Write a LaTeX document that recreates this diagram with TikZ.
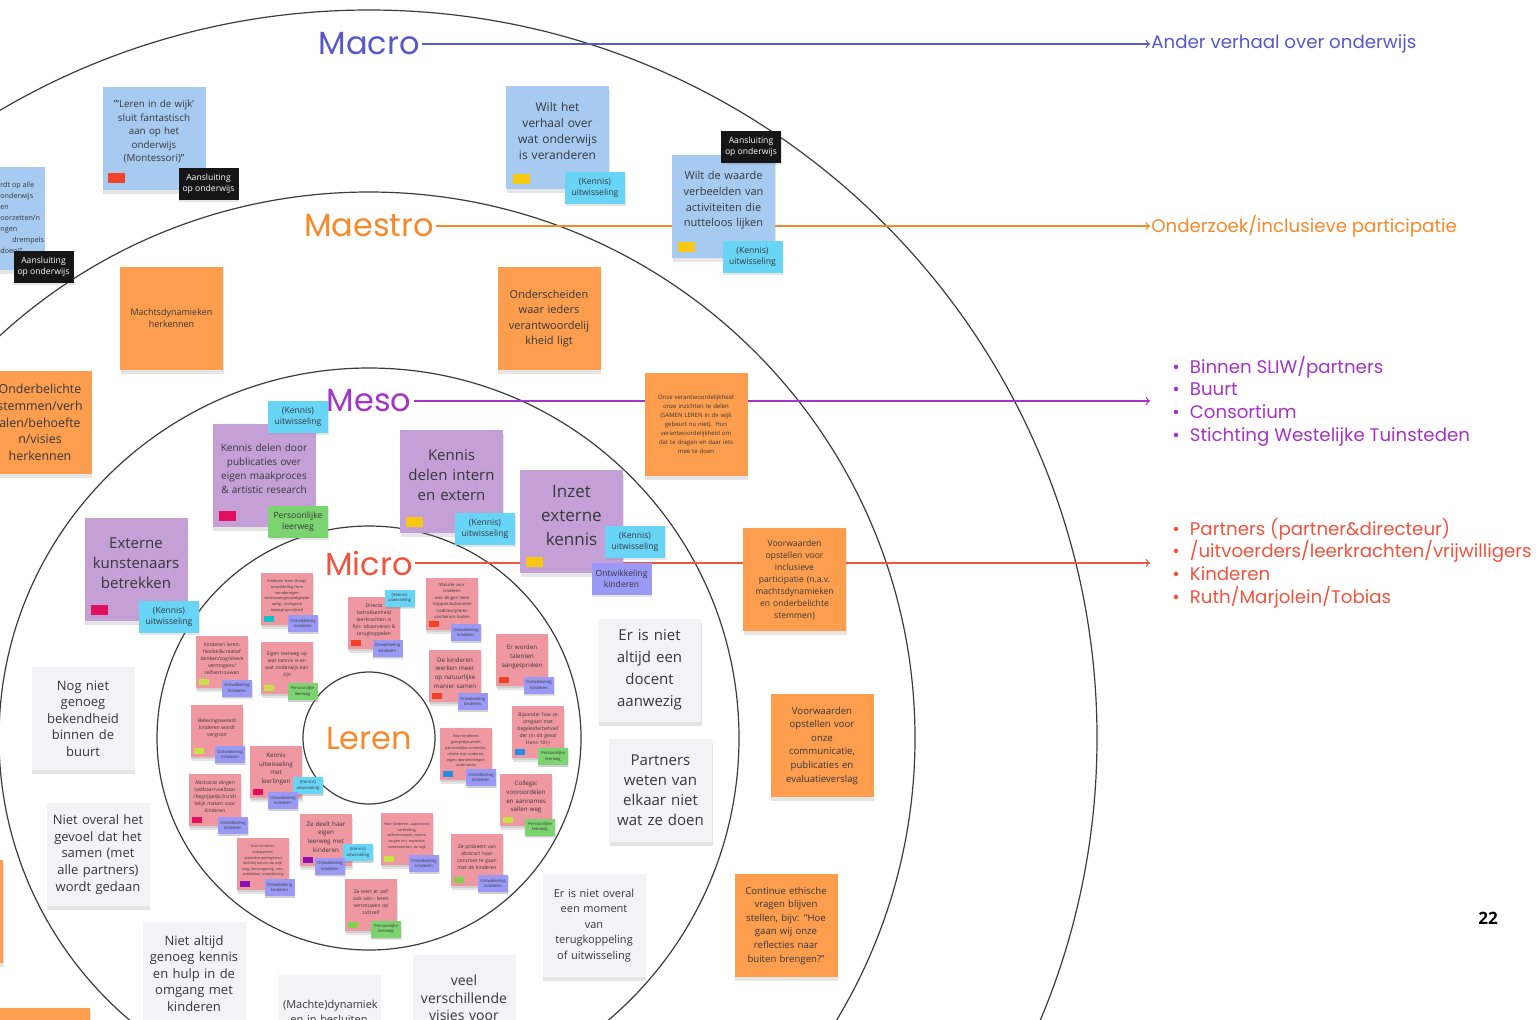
\documentclass[tikz,border=0pt]{standalone}
\usepackage{fontspec}
\setmainfont{Open Sans}
\newfontfamily\levelfont{Poppins}
\usetikzlibrary{shadows}

\definecolor{ringgrey}{RGB}{60,60,60}
\definecolor{macroblue}{RGB}{88,88,204}
\definecolor{maestroorange}{RGB}{246,137,42}
\definecolor{mesopurple}{RGB}{163,52,196}
\definecolor{microred}{RGB}{240,84,62}
\definecolor{notetext}{RGB}{55,55,60}
\definecolor{noteblue}{RGB}{166,202,240}
\definecolor{noteorange}{RGB}{252,158,78}
\definecolor{notepurple}{RGB}{196,160,214}
\definecolor{notegrey}{RGB}{243,243,245}
\definecolor{notepink}{RGB}{240,152,162}
\definecolor{tagcyan}{RGB}{104,212,246}
\definecolor{tagviolet}{RGB}{154,154,246}
\definecolor{taggreen}{RGB}{124,212,112}
\definecolor{tagblack}{RGB}{22,22,22}
\definecolor{markred}{RGB}{240,66,36}
\definecolor{markyellow}{RGB}{248,200,20}
\definecolor{markpink}{RGB}{226,16,92}
\definecolor{markcyan}{RGB}{18,190,200}
\definecolor{marklime}{RGB}{200,226,70}
\definecolor{markblue}{RGB}{36,142,226}
\definecolor{markviolet}{RGB}{140,16,176}
\definecolor{markgreen}{RGB}{130,210,80}

\tikzset{
  ring/.style={draw=ringgrey, line width=0.6pt},
  level/.style={font=\levelfont\fontsize{16}{18}\selectfont, inner sep=1pt},
  goal/.style={font=\levelfont\fontsize{9.1}{11.3}\selectfont, anchor=west, inner sep=0.5pt, align=left},
  goallist/.style={goal, inner xsep=11pt},
  levelline/.style={line width=0.6pt, ->},
  note/.style={minimum width=51.5pt, minimum height=51.5pt, text width=46pt, inner sep=0pt, align=center, text=notetext,
    drop shadow={shadow xshift=0.3pt, shadow yshift=-2pt, opacity=0.2}, font=\fontsize{6}{8}\selectfont},
  marked/.style={execute at end node={\par\vspace*{#1}}},
  marked/.default=6pt,
  bluenote/.style={note, marked, fill=noteblue},
  orangenote/.style={note, fill=noteorange},
  purplenote/.style={note, marked, fill=notepurple},
  greynote/.style={note, fill=notegrey, font=\fontsize{6.5}{8.3}\selectfont},
  mininote/.style={note, marked=3pt, fill=notepink, minimum width=26pt, minimum height=26pt, text width=24pt,
    drop shadow={shadow xshift=0.2pt, shadow yshift=-1pt, opacity=0.2}, font=\fontsize{2.5}{3.5}\selectfont},
  tag/.style={minimum width=30pt, minimum height=16pt, inner sep=1pt, align=center, text=notetext,
    drop shadow={shadow xshift=0.3pt, shadow yshift=-1.2pt, opacity=0.2}, font=\fontsize{4.3}{5.6}\selectfont},
  onderwijstag/.style={tag, fill=tagblack, text=white},
  kennistag/.style={tag, fill=tagcyan},
  leerwegtag/.style={tag, fill=taggreen},
  ontwtag/.style={tag, fill=tagviolet},
  minitag/.style={tag, minimum width=15pt, minimum height=8.5pt, inner sep=0.3pt, font=\fontsize{2.1}{2.7}\selectfont,
    drop shadow={shadow xshift=0.2pt, shadow yshift=-0.8pt, opacity=0.2}},
  minikennis/.style={minitag, fill=tagcyan},
  minileerweg/.style={minitag, fill=taggreen},
  miniontw/.style={minitag, fill=tagviolet},
  notemark/.style={minimum width=8.5pt, minimum height=5pt, inner sep=0pt},
  minimark/.style={minimum width=5pt, minimum height=3pt, inner sep=0pt}
}

\begin{document}
\begin{tikzpicture}[x=0.5pt, y=-0.5pt]
\useasboundingbox (0,0) rectangle (1540,1019);
\fill [white] (0,0) rectangle (1540,1019);
\clip (0,0) rectangle (1540,1019);

\coordinate (centre) at (369,738);
\draw [ring] (centre) circle [radius=364pt];
\draw [ring] (centre) circle [radius=273pt];
\draw [ring] (centre) circle [radius=185pt];
\draw [ring] (centre) circle [radius=106pt];
\draw [ring] (centre) circle [radius=33pt];

\node (macro) [level, text=macroblue] at (369,44) {Macro};
\node (maestro) [level, text=maestroorange] at (369,226) {Maestro};
\node (meso) [level, text=mesopurple] at (369,401) {Meso};
\node (micro) [level, text=microred] at (369,563) {Micro};
\node (leren) [level, text=maestroorange] at (369,738) {Leren};

\node (macrogoal) [goal, text=macroblue] at (1150,44) {Ander verhaal over onderwijs};
\node (maestrogoal) [goal, text=maestroorange] at (1150,226) {Onderzoek/inclusieve participatie};
\node (mesolist) [goallist, text=mesopurple] at (1150,401) {•\hspace{5pt}Binnen SLIW/partners\\•\hspace{5pt}Buurt\\•\hspace{5pt}Consortium\\•\hspace{5pt}Stichting Westelijke Tuinsteden};
\node (microlist) [goallist, text=microred] at (1150,563) {•\hspace{5pt}Partners (partner\&directeur)\\•\hspace{5pt}/uitvoerders/leerkrachten/vrijwilligers\\•\hspace{5pt}Kinderen\\•\hspace{5pt}Ruth/Marjolein/Tobias};

\draw [levelline, macroblue] (macro.east) -- (macro.east -| macrogoal.west);
\draw [levelline, maestroorange] (maestro.east) -- (maestro.east -| maestrogoal.west);
\draw [levelline, mesopurple] (meso.east) -- (meso.east -| mesolist.west);
\draw [levelline, microred] (micro.east) -- (micro.east -| microlist.west);

\node (n1) [bluenote, font=\fontsize{4.9}{6.75}\selectfont] at (154,138) {"'Leren in de wijk'\\sluit fantastisch\\aan op het\\onderwijs\\(Montessori)"};
\node (n1m) [notemark, fill=markred] at ([shift={(14,-12)}]n1.south west) {};
\node (t1) [onderwijstag] at (208.5,183.5) {Aansluiting\\op onderwijs};
\node (n2) [bluenote] at (-7,218) {};
\node (n2text) [anchor=west, inner sep=0pt, align=left, text=notetext, font=\fontsize{3.6}{5.5}\selectfont] at (0,218) {rdt op alle\\onderwijs\\en\\oorzetten/n\\ngen\\\hspace*{6pt}drempels\\doen)"};
\node (t2) [onderwijstag] at (43.5,267) {Aansluiting\\op onderwijs};
\node (n3) [bluenote] at (557.5,137) {Wilt het\\verhaal over\\wat onderwijs\\is veranderen};
\node (n3m) [notemark, fill=markyellow] at ([shift={(16,-10)}]n3.south west) {};
\node (t3) [kennistag] at (595,187.5) {(Kennis)\\uitwisseling};
\node (n4) [bluenote, font=\fontsize{5.5}{7.8}\selectfont] at (723.5,206.5) {Wilt de waarde\\verbeelden van\\activiteiten die\\nutteloos lijken};
\node (n4m) [notemark, fill=markyellow] at ([shift={(15,-11)}]n4.south west) {};
\node (t4a) [onderwijstag] at (751,146.5) {Aansluiting\\op onderwijs};
\node (t4b) [kennistag] at (752.5,257) {(Kennis)\\uitwisseling};

\node (n5) [orangenote, font=\fontsize{4.5}{6}\selectfont] at (171.5,318.5) {Machtsdynamieken\\herkennen};
\node (n6) [orangenote, font=\fontsize{5.5}{7.7}\selectfont] at (549,318.5) {Onderscheiden\\waar ieders\\verantwoordelij\\kheid ligt};
\node (n7) [orangenote, font=\fontsize{6.2}{8.3}\selectfont] at (40,422.5) {Onderbelichte\\stemmen/verh\\alen/behoefte\\n/visies\\herkennen};
\node (n8) [orangenote, font=\fontsize{3}{4.5}\selectfont] at (696,424.5) {Onze verantwoordelijkheid\\onze inzichten te delen\\(SAMEN LEREN in de wijk\\gebeurt nu niet). Hun\\verantwoordelijkheid om\\dat te dragen en daar iets\\mee te doen};
\node (n9) [orangenote, font=\fontsize{4.3}{6}\selectfont] at (794.5,579.5) {Voorwaarden\\opstellen voor\\inclusieve\\participatie (n.a.v.\\machtsdynamieken\\en onderbelichte\\stemmen)};
\node (n10) [orangenote, font=\fontsize{4.8}{6.8}\selectfont] at (822,745.5) {Voorwaarden\\opstellen voor\\onze\\communicatie,\\publicaties en\\evaluatieverslag};
\node (n11) [orangenote, font=\fontsize{4.8}{6.8}\selectfont] at (786,925.5) {Continue ethische\\vragen blijven\\stellen, bijv: "Hoe\\gaan wij onze\\reflecties naar\\buiten brengen?"};
\node (n12) [orangenote] at (38.5,1059.5) {};
\node (n12b) [orangenote] at (-48.5,911.5) {};

\node (n13) [purplenote, font=\fontsize{5}{7}\selectfont] at (264,475) {Kennis delen door\\publicaties over\\eigen maakproces\\\& artistic research};
\node (n13m) [notemark, fill=markpink] at ([shift={(15,-11)}]n13.south west) {};
\node (t13a) [kennistag] at (298,417) {(Kennis)\\uitwisseling};
\node (t13b) [leerwegtag] at (298,521.5) {Persoonlijke\\leerweg};
\node (n14) [purplenote, font=\fontsize{7.5}{10}\selectfont] at (451.5,481.5) {Kennis\\delen intern\\en extern};
\node (n14m) [notemark, fill=markyellow] at ([shift={(15,-11)}]n14.south west) {};
\node (t14) [kennistag] at (485,528.5) {(Kennis)\\uitwisseling};
\node (n15) [purplenote, font=\fontsize{8.5}{12}\selectfont] at (571.5,521.5) {Inzet\\externe\\kennis};
\node (n15m) [notemark, fill=markyellow] at ([shift={(15,-11)}]n15.south west) {};
\node (t15a) [kennistag] at (635,541.5) {(Kennis)\\uitwisseling};
\node (t15b) [ontwtag] at (621.5,579) {Ontwikkeling\\kinderen};
\node (n16) [purplenote, font=\fontsize{7.5}{10}\selectfont] at (136,569.5) {Externe\\kunstenaars\\betrekken};
\node (n16m) [notemark, fill=markpink] at ([shift={(15,-11)}]n16.south west) {};
\node (t16) [kennistag] at (169,617) {(Kennis)\\uitwisseling};

\node (n17) [greynote] at (83,718.5) {Nog niet\\genoeg\\bekendheid\\binnen de\\buurt};
\node (n18) [greynote] at (98,854.5) {Niet overal het\\gevoel dat het\\samen (met\\alle partners)\\wordt gedaan};
\node (n19) [greynote] at (194,973.5) {Niet altijd\\genoeg kennis\\en hulp in de\\omgang met\\kinderen};
\node (n20) [greynote, font=\fontsize{5.5}{7.5}\selectfont] at (329,1026.5) {(Machte)dynamiek\\en in besluiten\\\mbox{}\\\mbox{}};
\node (n21) [greynote, font=\fontsize{7}{8.75}\selectfont] at (464,1006.5) {veel\\verschillende\\visies voor\\\mbox{}};
\node (n22) [greynote, font=\fontsize{5.5}{7.8}\selectfont] at (594,925.5) {Er is niet overal\\een moment\\van\\terugkoppeling\\of uitwisseling};
\node (n23) [greynote, font=\fontsize{7.5}{11}\selectfont] at (649.5,670) {Er is niet\\altijd een\\docent\\aanwezig};
\node (n24) [greynote, font=\fontsize{7.5}{10}\selectfont] at (660.5,790.5) {Partners\\weten van\\elkaar niet\\wat ze doen};

\node (ma) [mininote, font=\fontsize{1.9}{2.9}\selectfont] at (287,599) {Kinderen leren (hoop)\\ontwikkeling from\\wonderingen\\vertrouwingsvaardighede\\welig. ecologisch\\bewegingsvrijheid};
\node (mam) [minimark, fill=markcyan] at ([shift={(8,-6)}]ma.south west) {};
\node (mat) [miniontw] at (303,623.5) {Ontwikkeling\\kinderen};
\node (mb) [mininote] at (374,623) {Directe\\betrokkenheid\\leerkrachten is\\fijn: observeren \&\\terugkoppelen};
\node (mbm) [minimark, fill=markred] at ([shift={(8,-6)}]mb.south west) {};
\node (mbt) [minikennis] at (399.5,598) {(Kennis)\\uitwisseling};
\node (mbu) [miniontw] at (387.5,648) {Ontwikkeling\\kinderen};
\node (mc) [mininote, font=\fontsize{2.1}{3.2}\selectfont] at (452,604) {Waarde voor\\kinderen\\over dingen heen\\stappen/autonomie\\traditievrij/leren\\van/kennis buiten};
\node (mcm) [minimark, fill=markred] at ([shift={(8,-6)}]mc.south west) {};
\node (mct) [miniontw] at (466,632.5) {Ontwikkeling\\kinderen};
\node (md) [mininote] at (222,662) {Kinderen leren:\\flexibel\&creatief\\denken/cognitieve\\vermogens/\\zelfvertrouwen};
\node (mdm) [minimark, fill=marklime] at ([shift={(8,-6)}]md.south west) {};
\node (mdt) [miniontw] at (237,688) {Ontwikkeling\\kinderen};
\node (me) [mininote] at (287,668) {Eigen leerweg op\\wat kennis is en\\wat onderwijs kan\\zijn};
\node (mem) [minimark, fill=marklime] at ([shift={(8,-6)}]me.south west) {};
\node (met) [minileerweg] at (302.5,691.5) {Persoonlijke\\leerweg};
\node (mf) [mininote, font=\fontsize{3.1}{4.4}\selectfont] at (455,676) {De kinderen\\werken meer\\op natuurlijke\\manier samen};
\node (mfm) [minimark, fill=markred] at ([shift={(8,-6)}]mf.south west) {};
\node (mft) [miniontw] at (472.5,701.5) {Ontwikkeling\\kinderen};
\node (mg) [mininote, font=\fontsize{3.1}{4.4}\selectfont] at (522,660) {Er worden\\talenten\\aangesproken};
\node (mgm) [minimark, fill=markred] at ([shift={(8,-6)}]mg.south west) {};
\node (mgt) [miniontw] at (539,685) {Ontwikkeling\\kinderen};
\node (mh) [mininote] at (217,731) {Belevingswereld\\kinderen wordt\\vergroot};
\node (mhm) [minimark, fill=marklime] at ([shift={(8,-6)}]mh.south west) {};
\node (mht) [miniontw] at (230,754.5) {Ontwikkeling\\kinderen};
\node (mi) [mininote, font=\fontsize{3.1}{4.4}\selectfont] at (276,772) {Kennis\\uitwisseling\\met\\leerlingen};
\node (mim) [minimark, fill=markpink] at ([shift={(8,-6)}]mi.south west) {};
\node (mit) [minikennis] at (308,785.5) {(Kennis)\\uitwisseling};
\node (miu) [miniontw] at (283,800.5) {Ontwikkeling\\kinderen};
\node (mj) [mininote] at (215,800) {Abstracte dingen\\tastbaar/voelbaar\\/begrijpelijk/inzich\\telijk maken voor\\kinderen};
\node (mjm) [minimark, fill=markpink] at ([shift={(8,-6)}]mj.south west) {};
\node (mjt) [miniontw] at (233,825.5) {Ontwikkeling\\kinderen};
\node (mk) [mininote, font=\fontsize{1.9}{2.9}\selectfont] at (466,754) {Voor kinderen:\\groepsdynamiek,\\persoonlijke connectie,\\relatie met ouderen,\\eigen identiteit/eigen\\autonomie};
\node (mkm) [minimark, fill=markblue] at ([shift={(8,-6)}]mk.south west) {};
\node (mkt) [miniontw] at (481,777.5) {Ontwikkeling\\kinderen};
\node (ml) [mininote] at (538,732) {Bijzonder hoe ze\\omgaan met\\begeleiderbehoef\\der (in dit geval\\Hans 10+)};
\node (mlm) [minimark, fill=markblue] at ([shift={(8,-6)}]ml.south west) {};
\node (mlt) [minileerweg] at (553,756.5) {Persoonlijke\\leerweg};
\node (mm) [mininote, font=\fontsize{3.1}{4.4}\selectfont] at (526,800) {Collega:\\vooroordelen\\en aannames\\vallen weg};
\node (mmm) [minimark, fill=marklime] at ([shift={(8,-6)}]mm.south west) {};
\node (mmt) [minileerweg] at (540,827) {Persoonlijke\\leerweg};
\node (mn) [mininote, font=\fontsize{1.8}{2.8}\selectfont] at (263,864) {Voor kinderen:\\ontspannen,\\onderdompeling/leren\\dichtbij huis/in de wijk,\\weg, leeromgeving, zien,\\ontdekken, ontwikkeling};
\node (mnm) [minimark, fill=markviolet] at ([shift={(8,-6)}]mn.south west) {};
\node (mnt) [miniontw] at (279.5,887.5) {Ontwikkeling\\kinderen};
\node (mo) [mininote, font=\fontsize{3.1}{4.4}\selectfont] at (326,840) {Ze deelt haar\\eigen\\leerweg met\\kinderen};
\node (mom) [minimark, fill=markviolet] at ([shift={(8,-6)}]mo.south west) {};
\node (mot) [minikennis] at (358,852.5) {(Kennis)\\uitwisseling};
\node (mou) [miniontw] at (330,866) {Ontwikkeling\\kinderen};
\node (mp) [mininote, font=\fontsize{1.8}{2.8}\selectfont] at (407,839) {Voor kinderen: autonomie,\\verbinding,\\zelfvertrouwen, ruimte,\\zorgen om, expressie,\\samenwerken, de wijk};
\node (mpm) [minimark, fill=marklime] at ([shift={(8,-6)}]mp.south west) {};
\node (mpt) [miniontw] at (424,863.5) {Ontwikkeling\\kinderen};
\node (mq) [mininote] at (477,860) {Ze probeert van\\abstract naar\\concreet te gaan\\met de kinderen};
\node (mqm) [minimark, fill=markgreen] at ([shift={(8,-6)}]mq.south west) {};
\node (mqt) [miniontw] at (493,883.5) {Ontwikkeling\\kinderen};
\node (mr) [mininote] at (371,905) {Ze leert er zelf\\ook van - leren\\vertrouwen op\\zichzelf};
\node (mrm) [minimark, fill=markgreen] at ([shift={(8,-6)}]mr.south west) {};
\node (mrt) [minileerweg] at (386,929) {Persoonlijke\\leerweg};

\node (page) [font=\bfseries\fontsize{8.5}{10}\selectfont] at (1488,918) {22};
\end{tikzpicture}
\end{document}
